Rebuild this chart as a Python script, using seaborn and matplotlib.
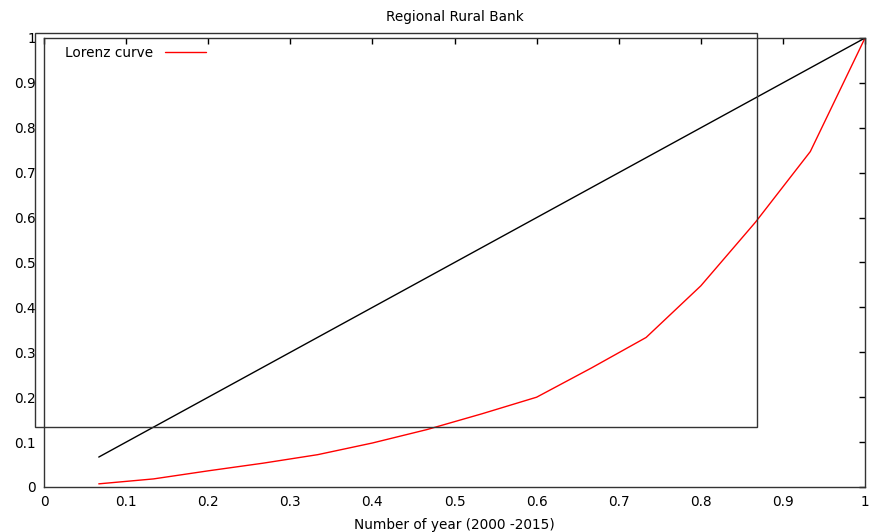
import matplotlib
matplotlib.use("Agg")
import matplotlib.pyplot as plt
import seaborn as sns
import pandas as pd
from matplotlib.patches import Rectangle
from matplotlib.ticker import FuncFormatter, MultipleLocator

# cumulative share of years (2000-2015) and cumulative share of the variable
years_share = [1/15, 2/15, 3/15, 4/15, 5/15, 6/15, 7/15, 8/15,
               9/15, 10/15, 11/15, 12/15, 13/15, 14/15, 15/15]
lorenz = [0.007, 0.018, 0.036, 0.053, 0.072, 0.098, 0.128, 0.163,
          0.200, 0.265, 0.333, 0.448, 0.590, 0.747, 1.000]

df = pd.DataFrame({"x": years_share, "lorenz": lorenz, "equal": years_share})

sns.set_style("white")
plt.rcParams["font.family"] = ["DejaVu Sans"]
plt.rcParams["text.color"] = "black"
plt.rcParams["axes.labelcolor"] = "black"

fig = plt.figure(figsize=(8.72, 5.32), dpi=100)
ax = fig.add_axes([0.0505, 0.0846, 0.9415, 0.844])

sns.lineplot(data=df, x="x", y="lorenz", ax=ax, color="red", lw=1,
             label="Lorenz curve")
sns.lineplot(data=df, x="x", y="equal", ax=ax, color="black", lw=1)

ax.set_xlim(0, 1)
ax.set_ylim(0, 1)
ax.xaxis.set_major_locator(MultipleLocator(0.1))
ax.yaxis.set_major_locator(MultipleLocator(0.1))
fmt = FuncFormatter(lambda v, p: "%g" % round(v, 2))
ax.xaxis.set_major_formatter(fmt)
ax.yaxis.set_major_formatter(fmt)
ax.tick_params(direction="in", length=4, width=1, top=True, right=True,
               labelsize=9.8, colors="black", pad=6)
for s in ax.spines.values():
    s.set_color("#333333")
    s.set_linewidth(1)

# gnuplot style key box
ax.add_patch(Rectangle((-0.011, 0.134), 0.879, 0.877, fill=False,
                       edgecolor="#333333", lw=1, clip_on=False, zorder=3))
leg = ax.legend(loc="upper left", bbox_to_anchor=(0.015, 1.0), frameon=False,
                markerfirst=False, fontsize=9.8, handlelength=3.0,
                handletextpad=0.9, borderaxespad=0.2)

ax.set_title("Regional Rural Bank", fontsize=9.8, pad=12, color="black")
ax.set_xlabel("Number of year (2000 -2015)", fontsize=9.8, labelpad=6)
ax.set_ylabel("")

fig.savefig("out.png", dpi=100)
